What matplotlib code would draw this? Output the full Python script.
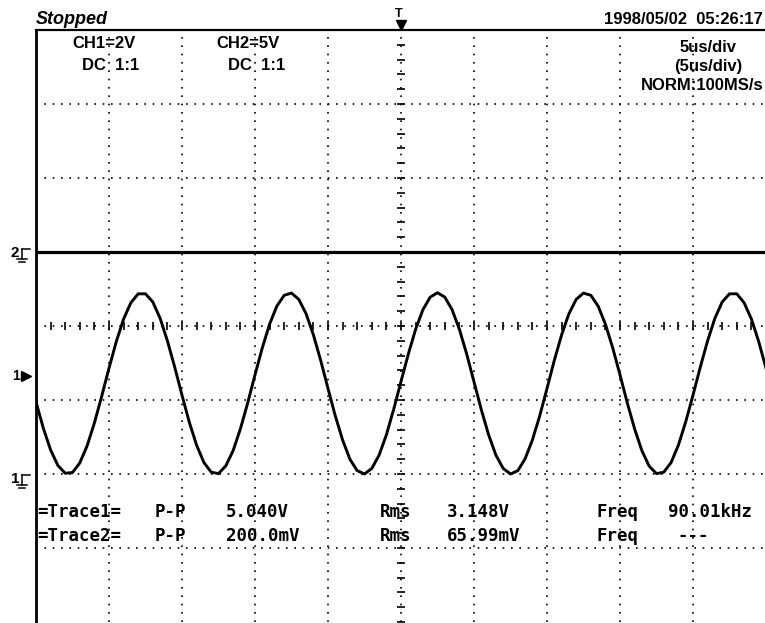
import matplotlib
matplotlib.use('Agg')
import matplotlib.pyplot as plt
import numpy as np
from matplotlib.lines import Line2D

# scope settings
time_per_div = 5.0      # us/div
ch1_v_per_div = 2.0
ch2_v_per_div = 5.0
ch1_ground_div = -2.05
ch2_ground_div = 1.0
ch1_trig_div = -0.68

# trace 1, every 0.5 us (volts)
ch1_t_step = 0.5
ch1_volts = [2.05, 1.34, 0.75, 0.33, 0.12, 0.14, 0.40, 0.86, 1.48, 2.20,
             2.96, 3.68, 4.29, 4.73, 4.97, 4.97, 4.75, 4.31, 3.70, 2.99,
             2.23, 1.50, 0.88, 0.41, 0.15, 0.11, 0.32, 0.73, 1.32, 2.02,
             2.78, 3.51, 4.15, 4.64, 4.93, 4.99, 4.82, 4.43, 3.86, 3.17,
             2.41, 1.67, 1.02, 0.50, 0.19, 0.10, 0.25, 0.61, 1.16, 1.85,
             2.60, 3.34, 4.01, 4.54, 4.88, 5.00, 4.88, 4.54, 4.01, 3.34,
             2.59, 1.84, 1.16, 0.61, 0.25, 0.10, 0.19, 0.51, 1.02, 1.67,
             2.41, 3.17, 3.86, 4.43, 4.82, 4.99, 4.93, 4.64, 4.15, 3.51,
             2.78, 2.02, 1.32, 0.73, 0.31, 0.11, 0.15, 0.41, 0.88, 1.51,
             2.23, 2.99, 3.70, 4.31, 4.75, 4.97, 4.97, 4.73, 4.29, 3.68,
             2.96]

# trace 2 is flat
ch2_t = [0.0, 50.0]
ch2_volts = [0.0, 0.0]

# measurement table
meas_names = ['=Trace1=', '=Trace2=']
meas_pp = ['5.040V', '200.0mV']
meas_rms = ['3.148V', '65.99mV']
meas_freq = ['90.01kHz', '---']

W, H = 765, 623
TOP, DIV_Y = 30, 74


def fx(px):
    return px / W


def fy(py):
    return 1 - py / H


def pix_y(div):
    return TOP + (4 - div) * DIV_Y


def ground_mark(fig, label, div):
    py = pix_y(div)
    fig.text(fx(15), fy(py + 1), label, fontsize=11, fontweight='bold',
             family='Liberation Sans', ha='center', va='center')
    segs = [([22, 22], [py - 3, py + 7]), ([22, 30], [py - 3, py - 3]),
            ([17, 27], [py + 7, py + 7]), ([19, 25], [py + 10, py + 10])]
    for xs, ys in segs:
        fig.add_artist(Line2D([fx(x) for x in xs], [fy(y) for y in ys],
                              transform=fig.transFigure, color='k', lw=1.1))


fig = plt.figure(figsize=(7.65, 6.23), dpi=100)
ax = fig.add_axes([fx(36), fy(TOP + 8 * DIV_Y), 730 / W, 8 * DIV_Y / H])
ax.set_xlim(0, 10)
ax.set_ylim(-4, 4)
ax.set_xticks([])
ax.set_yticks([])
for s in ['right', 'bottom']:
    ax.spines[s].set_visible(False)
ax.spines['left'].set_linewidth(2)
ax.spines['top'].set_linewidth(1.6)

dots = (0, (1, 4))
for x in range(1, 10):
    ax.axvline(x, color='k', lw=1.2, ls=dots)
for y in range(-3, 4):
    ax.axhline(y, color='k', lw=1.2, ls=dots)

# centre axes with minor ticks
minor = np.arange(0, 10.01, 0.2)
ax.plot(minor, np.zeros_like(minor), ls='none', marker='|', ms=6,
        mew=1.2, color='k')
minor_y = np.arange(-4, 4.01, 0.2)
ax.plot(np.full_like(minor_y, 5), minor_y, ls='none', marker='_', ms=6,
        mew=1.2, color='k')

# traces
t1 = np.arange(len(ch1_volts)) * ch1_t_step
ax.plot(t1 / time_per_div, ch1_ground_div + np.array(ch1_volts) / ch1_v_per_div,
        color='k', lw=2.1)
ax.plot(np.array(ch2_t) / time_per_div,
        ch2_ground_div + np.array(ch2_volts) / ch2_v_per_div,
        color='k', lw=2.3)

# header
fig.text(fx(36), fy(19), 'Stopped', fontsize=13, fontweight='bold',
         style='italic', family='Liberation Sans', va='center')
fig.text(fx(763), fy(20), '1998/05/02  05:26:17', fontsize=12,
         fontweight='bold', family='Liberation Sans', ha='right', va='center')
hdr = dict(fontsize=12, fontweight='bold', family='Liberation Sans',
           va='center')
fig.text(fx(72), fy(44), 'CH1=2V', **hdr)
fig.text(fx(82), fy(66), 'DC  1:1', **hdr)
fig.text(fx(216), fy(44), 'CH2=5V', **hdr)
fig.text(fx(228), fy(66), 'DC  1:1', **hdr)
fig.text(fx(708), fy(47), '5us/div', ha='center', **hdr)
fig.text(fx(708), fy(67), '(5us/div)', ha='center', **hdr)
fig.text(fx(763), fy(86), 'NORM:100MS/s', ha='right', **hdr)

# trigger marker
fig.text(fx(399), fy(14), 'T', fontsize=9, fontweight='bold',
         family='Liberation Sans', ha='center', va='center')
fig.add_artist(Line2D([fx(401)], [fy(25)], transform=fig.transFigure,
                      marker='v', ms=7, color='k'))

# channel markers
ground_mark(fig, '2', ch2_ground_div)
ground_mark(fig, '1', ch1_ground_div)
fig.text(fx(12), fy(pix_y(ch1_trig_div)), '1', fontsize=10, fontweight='bold',
         family='Liberation Sans', va='center')
fig.add_artist(Line2D([fx(26)], [fy(pix_y(ch1_trig_div))],
                      transform=fig.transFigure, marker='>', ms=7, color='k'))

# measurements
mono = dict(fontsize=12.5, fontweight='bold', family='DejaVu Sans Mono',
            va='center')
for i, name in enumerate(meas_names):
    py = 512 + 24 * i
    fig.text(fx(37), fy(py), name, **mono)
    fig.text(fx(155), fy(py), 'P-P', **mono)
    fig.text(fx(226), fy(py), meas_pp[i], **mono)
    fig.text(fx(380), fy(py), 'Rms', **mono)
    fig.text(fx(447), fy(py), meas_rms[i], **mono)
    fig.text(fx(596), fy(py), 'Freq', **mono)
    fig.text(fx(668 if meas_freq[i] != '---' else 678), fy(py), meas_freq[i],
             **mono)

fig.savefig('out.png', dpi=100)
